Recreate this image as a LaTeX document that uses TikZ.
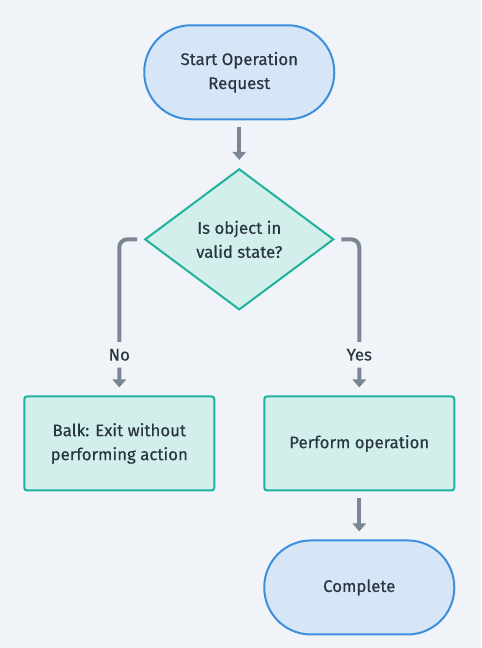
\documentclass[tikz,border=0pt]{standalone}
\usepackage{fontspec}
\setmainfont{Fira Sans}[FakeBold=0.4]
\usetikzlibrary{shapes.geometric,arrows.meta,matrix}
\definecolor{bg}{HTML}{F0F4F8}
\definecolor{ink}{HTML}{2A3542}
\definecolor{termfill}{HTML}{D6E6F6}
\definecolor{termline}{HTML}{3D8FDB}
\definecolor{taskfill}{HTML}{D3EFEC}
\definecolor{taskline}{HTML}{22B09E}
\definecolor{arrowgray}{HTML}{7A8693}

\begin{document}
\begin{tikzpicture}[x=0.75pt,y=-0.75pt,
    font=\fontsize{12.6}{18}\selectfont,
    block_terminal/.style ={rectangle, rounded corners=35pt, draw=termline,
      line width=1.5pt, fill=termfill, text=ink, align=center,
      minimum width=142.5pt, minimum height=70.5pt},
    block_decision/.style ={diamond, draw=taskline, line width=1.5pt,
      fill=taskfill, text=ink, align=center, inner sep=0pt,
      minimum width=141.75pt, minimum height=105.75pt},
    block_task/.style ={rectangle, rounded corners=2pt, draw=taskline,
      line width=1.5pt, fill=taskfill, text=ink, align=center,
      minimum width=142.5pt, minimum height=70.5pt},
    branch_label/.style ={fill=bg, text=ink, inner sep=0pt,
      minimum height=19pt, minimum width=24pt},
    line/.style ={draw=arrowgray, line width=3pt, rounded corners=6pt,
      -{Triangle[width=10pt,length=6pt]}, shorten <=5pt, shorten >=6pt}]
    % background and page size
    \fill[bg] (0,0) rectangle (481,648);
    % outlining the flowchart with a matrix, middle column overlaps the others
    \matrix (chart) [matrix anchor=north west, inner sep=0pt,
      column sep=-54pt, row sep=36pt] at (23,24) {
      % row 1
      & \node [block_terminal] (start) {Start Operation\\Request}; & \\
      % row 2
      & \node [block_decision] (check) {Is object in\\valid state?}; & \\[27.75pt]
      % row 3
      \node [block_task] (balk) {Balk: Exit without\\performing action};
      & & \node [block_task] (perform) {Perform operation}; \\
      % row 4
      & & \node [block_terminal] (complete) {Complete}; \\
    };% end matrix
    % connecting nodes with paths
    \begin{scope}[every path/.style=line]
      \path (start)   -- (check);
      \path (check.west)  -| (balk.north)
        node [branch_label, pos=0.87] (no) {No};
      \path (check.east)  -| (perform.north)
        node [branch_label, pos=0.87] (yes) {Yes};
      \path (perform)  -- (complete);
    \end{scope}
\end{tikzpicture}
\end{document}
